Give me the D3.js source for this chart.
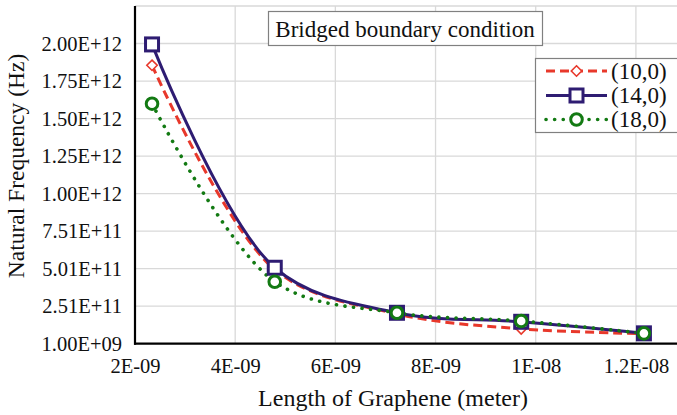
<!DOCTYPE html>
<html><head><meta charset="utf-8">
<script src="https://cdn.jsdelivr.net/npm/d3@7"></script>
</head>
<body style="margin:0;background:#fff"><svg id="c" width="677" height="415" style="display:block"></svg>
<script>
const lengths = [2.34e-9, 4.79e-9, 7.23e-9, 9.71e-9, 12.16e-9];
const s10 = [1.856e12, 4.95e11, 2.00e11, 1.00e11, 6.8e10];
const s14 = [1.995e12, 5.07e11, 2.07e11, 1.47e11, 7.0e10];
const s18 = [1.60e12, 4.14e11, 2.07e11, 1.52e11, 7.0e10];
const seriesNames = ["(10,0)", "(14,0)", "(18,0)"];
const yTicks = [1e9, 2.51e11, 5.01e11, 7.51e11, 1.001e12, 1.251e12, 1.501e12, 1.751e12, 2.001e12];
const yTickLabels = ["1.00E+09","2.51E+11","5.01E+11","7.51E+11","1.00E+12","1.25E+12","1.50E+12","1.75E+12","2.00E+12"];
const xTicks = [2e-9, 4e-9, 6e-9, 8e-9, 1e-8, 1.2e-8];
const xTickLabels = ["2E-09","4E-09","6E-09","8E-09","1E-08","1.2E-08"];
const chartTitle = "Bridged boundary condition";
const xTitle = "Length of Graphene (meter)";
const yTitle = "Natural Frequency (Hz)";

const FONT = '"Liberation Serif"';
const svg = d3.select("#c");
const L = 135, R = 686, T = 6, B = 343.7;
const x = d3.scaleLinear().domain([2e-9, 1.3e-8]).range([L, R]);
const y = d3.scaleLinear().domain([1e9, 2.251e12]).range([B, T]);

// grid
const grid = svg.append("g");
grid.selectAll("line.v").data(xTicks.slice(1).concat([1.3e-8])).enter().append("line")
  .attr("x1", d=>x(d)).attr("x2", d=>x(d)).attr("y1", T).attr("y2", B)
  .attr("stroke", "#d9d9d9").attr("stroke-width", 1.3);
grid.selectAll("line.h").data(yTicks.slice(1).concat([2.251e12])).enter().append("line")
  .attr("x1", L).attr("x2", R).attr("y1", d=>y(d)).attr("y2", d=>y(d))
  .attr("stroke", "#d9d9d9").attr("stroke-width", 1.3);

// axes
const yAxis = d3.axisLeft(y).tickValues(yTicks).tickFormat((d,i)=>yTickLabels[i]).tickSize(0).tickPadding(13);
const gy = svg.append("g").attr("transform", `translate(${L},0)`).call(yAxis);
gy.select(".domain").remove();
gy.selectAll("text").attr("font-size", 20.5).attr("fill", "#111").style("font-family", FONT);

const xAxis = d3.axisBottom(x).tickValues(xTicks).tickFormat((d,i)=>xTickLabels[i]).tickSize(0).tickPadding(14.7);
const gx = svg.append("g").attr("transform", `translate(0,${B})`).call(xAxis);
gx.select(".domain").remove();
gx.selectAll("text").attr("font-size", 20.5).attr("fill", "#111").style("font-family", FONT);

svg.append("line").attr("x1", L).attr("x2", L).attr("y1", T).attr("y2", B+1).attr("stroke", "#000").attr("stroke-width", 2.2);
svg.append("line").attr("x1", L-1).attr("x2", 677).attr("y1", B).attr("y2", B).attr("stroke", "#000").attr("stroke-width", 2.2);

// axis titles
svg.append("text").attr("x", 393).attr("y", 406).attr("text-anchor", "middle").style("font-family", FONT)
  .attr("font-size", 24).attr("fill", "#111").text(xTitle);
svg.append("text").attr("transform", "translate(24,166) rotate(-90)").attr("text-anchor", "middle").style("font-family", FONT)
  .attr("font-size", 23.5).attr("fill", "#111").text(yTitle);

// series
const line = d3.line().x((d,i)=>x(lengths[i])).y(d=>y(d)).curve(d3.curveCatmullRom.alpha(0.5));
const colors = {red:"#e8382b", blue:"#2e1c72", green:"#137a13"};

svg.append("path").datum(s10).attr("d", line).attr("fill","none").attr("stroke", colors.red)
  .attr("stroke-width", 3).attr("stroke-dasharray", "9,5");
svg.append("path").datum(s14).attr("d", line).attr("fill","none").attr("stroke", colors.blue)
  .attr("stroke-width", 3);
svg.append("path").datum(s18).attr("d", line).attr("fill","none").attr("stroke", colors.green)
  .attr("stroke-width", 3.6).attr("stroke-dasharray", "0.1,8.5").attr("stroke-linecap","round");

const dm = 5.2;
const diamondPath = `M0,${-dm}L${dm},0L0,${dm}L${-dm},0Z`;
function drawDiamonds(g, data){
  g.selectAll("path.m").data(data).enter().append("path")
    .attr("d", diamondPath).attr("transform", (d,i)=>`translate(${x(lengths[i])},${y(d)})`)
    .attr("fill","#fff").attr("stroke", colors.red).attr("stroke-width", 1.6);
}
function drawSquares(g, data){
  g.selectAll("rect.m").data(data).enter().append("rect")
    .attr("x", (d,i)=>x(lengths[i])-6.5).attr("y", d=>y(d)-6.5).attr("width", 13).attr("height", 13)
    .attr("fill","#fff").attr("stroke", colors.blue).attr("stroke-width", 3);
}
function drawCircles(g, data){
  g.selectAll("circle.m").data(data).enter().append("circle")
    .attr("cx", (d,i)=>x(lengths[i])).attr("cy", d=>y(d)).attr("r", 5.8)
    .attr("fill","#fff").attr("stroke", colors.green).attr("stroke-width", 3);
}
drawDiamonds(svg.append("g"), s10);
drawSquares(svg.append("g"), s14);
drawCircles(svg.append("g"), s18);

// title box
svg.append("rect").attr("x", 268.5).attr("y", 11.5).attr("width", 274).attr("height", 34)
  .attr("fill","#fff").attr("stroke","#808080").attr("stroke-width",1.2);
svg.append("text").attr("x", 405).attr("y", 36.5).attr("text-anchor","middle").style("font-family", FONT)
  .attr("font-size", 23).attr("fill","#111").text(chartTitle);

// legend
const lg = svg.append("g");
lg.append("rect").attr("x", 535.5).attr("y", 58.5).attr("width", 150).attr("height", 74)
  .attr("fill","#fff").attr("stroke","#808080").attr("stroke-width",1.2);
const legY = [71, 95.5, 119.5];
const styles = [
  {c:colors.red, w:3, dash:"9,5", cap:"butt"},
  {c:colors.blue, w:3, dash:null, cap:"butt"},
  {c:colors.green, w:3.6, dash:"0.1,8.5", cap:"round"}
];
seriesNames.forEach((nm,i)=>{
  const st = styles[i];
  const ln = lg.append("line").attr("x1", 546).attr("x2", 607).attr("y1", legY[i]).attr("y2", legY[i])
    .attr("stroke", st.c).attr("stroke-width", st.w).attr("stroke-linecap", st.cap);
  if (st.dash) ln.attr("stroke-dasharray", st.dash);
  if (i===0) lg.append("path").attr("d", diamondPath).attr("transform", `translate(576.5,${legY[i]})`)
    .attr("fill","#fff").attr("stroke", colors.red).attr("stroke-width", 1.6);
  if (i===1) lg.append("rect").attr("x", 570).attr("y", legY[i]-6.5).attr("width",13).attr("height",13)
    .attr("fill","#fff").attr("stroke", colors.blue).attr("stroke-width", 3);
  if (i===2) lg.append("circle").attr("cx", 576.5).attr("cy", legY[i]).attr("r", 5.8)
    .attr("fill","#fff").attr("stroke", colors.green).attr("stroke-width", 3);
  lg.append("text").attr("x", 611).attr("y", legY[i]+7.5).style("font-family", FONT)
    .attr("font-size", 23).attr("fill","#111").text(nm);
});
</script></body></html>
